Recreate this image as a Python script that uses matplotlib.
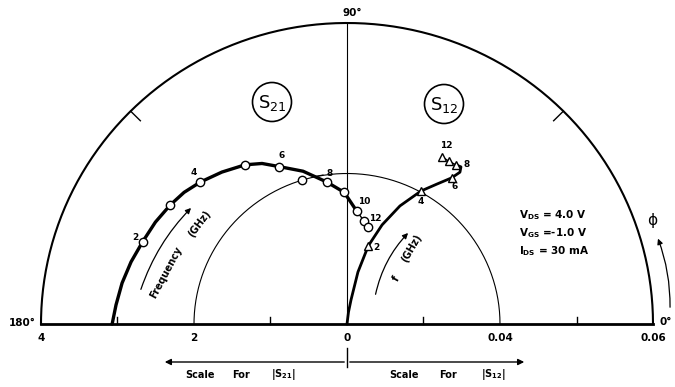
import numpy as np
import matplotlib.pyplot as plt
from matplotlib.patches import Ellipse

# S21 measured points (magnitude, angle in degrees), 2..12 GHz
s21_freq = [2, 3, 4, 5, 6, 7, 8, 9, 10, 11, 12]
s21_mag = [2.886, 2.80, 2.69, 2.50, 2.27, 2.00, 1.906, 1.75, 1.507, 1.387, 1.313]
s21_ang = [157.7, 145.6, 135.5, 122.2, 112.9, 107.0, 98.0, 91.2, 85.2, 80.8, 78.1]
# hand drawn S21 curve
s21_curve_mag = [3.07, 3.03, 2.99, 2.941, 2.886, 2.847, 2.80, 2.756, 2.69, 2.598, 2.50,
                 2.405, 2.27, 2.11, 1.906, 1.75, 1.507]
s21_curve_ang = [180, 175.2, 169.5, 163.7, 157.7, 151.6, 145.6, 140.6, 135.5, 129.0, 122.2,
                 117.5, 112.9, 105.8, 98.0, 91.2, 85.2]

# S12 measured points
s12_freq = [2, 4, 6, 8, 10, 12]
s12_mag = [0.0215, 0.0403, 0.0475, 0.0510, 0.0508, 0.0509]
s12_ang = [75.0, 61.3, 54.85, 56.0, 58.3, 60.8]
s12_curve_mag = [0, 0.0032, 0.0065, 0.0141, 0.0215, 0.0279, 0.0343, 0.0403, 0.0440, 0.0475,
                 0.0500, 0.0513, 0.0510]
s12_curve_ang = [90, 83.0, 80.7, 78.3, 75.0, 70.8, 66.2, 61.3, 57.7, 54.85, 53.8, 54.5, 56.0]

s21_full = 4.0
s12_full = 0.08

scale_pos = [-1, -0.5, 0, 0.5, 1]
scale_labels = ["4", "2", "0", "0.04", "0.06"]
minor_pos = [-0.75, -0.25, 0.25, 0.75]

# picture geometry (pixels)
W, H = 675, 387
CX, CY = 347, 324
RX, RY = 306, 301


def px(x, y):
    return (x - CX) / RX, (CY - y) / RY


def polar(mag, ang, full):
    r = np.asarray(mag) / full
    a = np.radians(ang)
    return r * np.cos(a), r * np.sin(a)


plt.rcParams['mathtext.default'] = 'regular'
fig = plt.figure(figsize=(W / 100, H / 100), dpi=100)
ax = fig.add_axes([0, 0, 1, 1])
ax.set_xlim(-CX / RX, (W - CX) / RX)
ax.set_ylim((CY - H) / RY, CY / RY)
ax.axis('off')

# frame: outer and inner semicircles, baseline, 90 deg line
t = np.linspace(0, np.pi, 300)
ax.plot(np.cos(t), np.sin(t), color='black', lw=1.5)
ax.plot(0.5 * np.cos(t), 0.5 * np.sin(t), color='black', lw=0.8)
ax.plot([-1, 1], [0, 0], color='black', lw=2)
ax.plot([0, 0], [0, 1], color='black', lw=0.8)
for a in [45, 135]:
    a = np.radians(a)
    ax.plot([np.cos(a), 0.955 * np.cos(a)], [np.sin(a), 0.955 * np.sin(a)], color='black', lw=1)
for p in minor_pos:
    ax.plot([p, p], [0, 0.022], color='black', lw=1)
for p, lab in zip(scale_pos, scale_labels):
    ax.text(p, -0.03, lab, ha='center', va='top', fontsize=7.5, fontweight='bold')

ax.text(*px(352, 13), "90°", ha='center', va='center', fontsize=7.5, fontweight='bold')
ax.text(*px(22, 323), "180°", ha='center', va='center', fontsize=7.5, fontweight='bold')
ax.text(*px(666, 322), "0°", ha='center', va='center', fontsize=7.5, fontweight='bold')

# S21 curve and points
x, y = polar(s21_curve_mag, s21_curve_ang, s21_full)
ax.plot(x, y, color='black', lw=2.4, solid_capstyle='round', solid_joinstyle='round')
x, y = polar(s21_mag[8:], s21_ang[8:], s21_full)
ax.plot(x, y, color='black', lw=1.0)
x, y = polar(s21_mag, s21_ang, s21_full)
ax.plot(x, y, 'o', ls='none', ms=6, mfc='white', mec='black', mew=1.0)

s21_lab = {2: (135, 238), 4: (194, 173), 6: (282, 156), 8: (330, 174), 10: (364, 202), 12: (375, 219)}
for f, (lx, ly) in s21_lab.items():
    ax.text(*px(lx, ly), str(f), ha='center', va='center', fontsize=6.5, fontweight='bold')
ax.plot(*zip(px(315, 176.5), px(323, 175)), color='black', lw=0.8)

# S12 curve and points
x, y = polar(s12_curve_mag, s12_curve_ang, s12_full)
ax.plot(x, y, color='black', lw=2.0, solid_capstyle='round', solid_joinstyle='round')
x, y = polar(s12_mag[3:], s12_ang[3:], s12_full)
ax.plot(x, y, color='black', lw=1.0)
x, y = polar(s12_mag, s12_ang, s12_full)
ax.plot(x, y, '^', ls='none', ms=6, mfc='white', mec='black', mew=1.0)

s12_lab = {2: (376, 248), 4: (421, 202), 6: (455, 187), 8: (467, 165), 12: (446, 146)}
for f, (lx, ly) in s12_lab.items():
    ax.text(*px(lx, ly), str(f), ha='center', va='center', fontsize=6.5, fontweight='bold')

# circled titles
for (cx, cy), sub in [((272, 102), "21"), ((444, 104), "12")]:
    ax.add_patch(Ellipse(px(cx, cy), 39 / RX, 39 / RY, fill=False, lw=1.2))
    ax.text(*px(cx, cy + 1), "S$_{" + sub + "}$", ha='center', va='center', fontsize=13)

# frequency arrows and labels
ax.annotate("", xy=px(193, 206), xytext=px(140, 292),
            arrowprops=dict(arrowstyle='-|>', color='black', lw=0.9, mutation_scale=8,
                            connectionstyle='arc3,rad=-0.12'))
ax.text(*px(166, 272), "Frequency", rotation=62, ha='center', va='center', fontsize=7, fontweight='bold')
ax.text(*px(199, 224), "(GHz)", rotation=53, ha='center', va='center', fontsize=7, fontweight='bold')

ax.annotate("", xy=px(410, 231), xytext=px(375, 297),
            arrowprops=dict(arrowstyle='-|>', color='black', lw=0.9, mutation_scale=8,
                            connectionstyle='arc3,rad=-0.15'))
ax.text(*px(396, 279), "f", rotation=60, ha='center', va='center', fontsize=7, fontweight='bold')
ax.text(*px(411, 248), "(GHz)", rotation=60, ha='center', va='center', fontsize=7, fontweight='bold')

# phase arrow
ax.annotate("", xy=px(657, 236), xytext=px(670, 310),
            arrowprops=dict(arrowstyle='-|>', color='black', lw=0.9, mutation_scale=8,
                            connectionstyle='arc3,rad=0.1'))
ax.text(*px(653, 221), r"$\phi$", ha='center', va='center', fontsize=11)

# bias conditions
bias = [r"V$_{DS}$ = 4.0 V", r"V$_{GS}$ =-1.0 V", r"I$_{DS}$ = 30 mA"]
for i, s in enumerate(bias):
    ax.text(*px(519, 215 + 18 * i), s, ha='left', va='center', fontsize=7.5, fontweight='bold')

# scale arrows at the bottom
ax.annotate("", xy=px(162, 362), xytext=px(347, 362),
            arrowprops=dict(arrowstyle='-|>', color='black', lw=1.0, mutation_scale=9))
ax.annotate("", xy=px(527, 362), xytext=px(347, 362),
            arrowprops=dict(arrowstyle='-|>', color='black', lw=1.0, mutation_scale=9))
ax.plot(*zip(px(347, 348), px(347, 367)), color='black', lw=1.0)
for (lx, s) in [(200, "Scale"), (241, "For"), (283, r"|S$_{21}$|"),
                (404, "Scale"), (448, "For"), (493, r"|S$_{12}$|")]:
    ax.text(*px(lx, 375), s, ha='center', va='center', fontsize=7, fontweight='bold')

fig.savefig("out.png", dpi=100)
